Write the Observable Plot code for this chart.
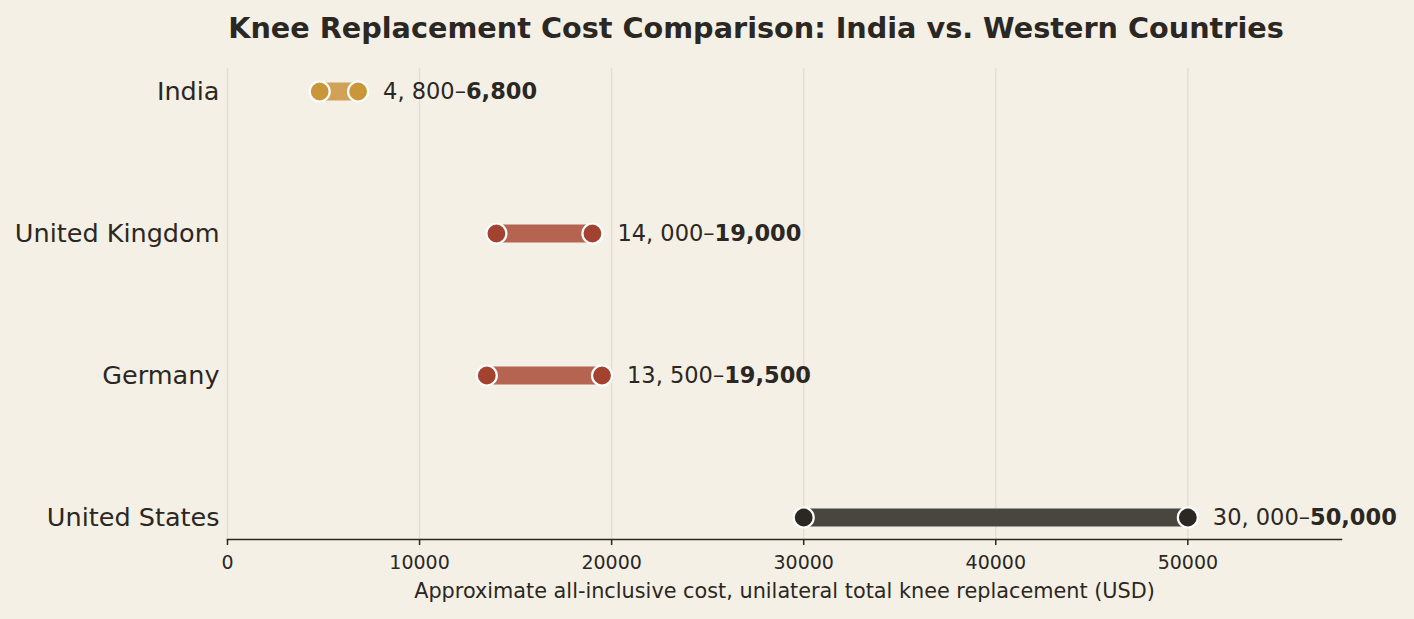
<!DOCTYPE html>
<html>
<head>
<meta charset="utf-8">
<script src="https://cdn.jsdelivr.net/npm/d3@7"></script>
<script src="https://cdn.jsdelivr.net/npm/@observablehq/plot@0.6"></script>
<style>
  html, body { margin: 0; padding: 0; background: #f5f0e6; }
  body { width: 1414px; height: 619px; overflow: hidden; font-family: "DejaVu Sans", sans-serif; color: #2b2723; }
  #title { box-sizing: border-box; width: 1414px; height: 56px; line-height: 56px; padding-left: 98px; text-align: center; font-size: 28.7px; font-weight: bold; }
  #chart svg { display: block; }
</style>
</head>
<body>
<div id="title">Knee Replacement Cost Comparison: India vs. Western Countries</div>
<div id="chart"></div>
<script>
const countries = ["India", "United Kingdom", "Germany", "United States"];
const lowCost = [4800, 14000, 13500, 30000];
const highCost = [6800, 19000, 19500, 50000];
const groups = ["India", "Europe", "Europe", "United States"];
const xTicks = [0, 10000, 20000, 30000, 40000, 50000];
const xLabel = "Approximate all-inclusive cost, unilateral total knee replacement (USD)";

const fmt = d3.format(",");
const data = countries.map((c, i) => ({
  country: c,
  low: lowCost[i],
  high: highCost[i],
  group: groups[i],
  label: fmt(lowCost[i]).replace(",", ", ") + "–" + fmt(highCost[i])
}));

const ink = "#2b2723";
const barColor = d3.scaleOrdinal(["India", "Europe", "United States"], ["#d0a156", "#b56451", "#494640"]);
const dotColor = d3.scaleOrdinal(["India", "Europe", "United States"], ["#c9963a", "#a3432f", "#2b2723"]);

const chart = Plot.plot({
  width: 1414,
  height: 563,
  marginTop: 12,
  marginBottom: 80,
  marginLeft: 227,
  marginRight: 73,
  style: { background: "#f5f0e6", fontFamily: "DejaVu Sans, sans-serif", color: ink, overflow: "visible" },
  x: { domain: [0, 58000] },
  y: { type: "point", domain: countries, padding: 0.15 },
  marks: [
    Plot.gridX(xTicks, { stroke: "#e4ded2", strokeOpacity: 1, strokeWidth: 1.5 }),
    Plot.axisX(xTicks, {
      tickSize: 6, tickPadding: 10, fontSize: 19, tickFormat: d => String(d),
      stroke: ink, strokeWidth: 1.5, fill: ink, label: null
    }),
    Plot.text([xLabel], { text: d => d, frameAnchor: "bottom", dy: 58, fontSize: 20.8, fill: ink }),
    Plot.axisY({ tickSize: 0, tickPadding: 8, fontSize: 25.5, fill: ink, label: null }),
    Plot.frame({ anchor: "bottom", stroke: ink, strokeWidth: 1.5 }),
    Plot.ruleY(data, { y: "country", x1: "low", x2: "high", stroke: d => barColor(d.group), strokeWidth: 18 }),
    Plot.dot(data, { y: "country", x: "low", r: 10, fill: d => dotColor(d.group), stroke: "white", strokeWidth: 2.2 }),
    Plot.dot(data, { y: "country", x: "high", r: 10, fill: d => dotColor(d.group), stroke: "white", strokeWidth: 2.2 }),
    Plot.text(data, { y: "country", x: "high", text: "label", dx: 25, textAnchor: "start", fontSize: 22.5, fill: ink, className: "vlabel" })
  ]
});
document.getElementById("chart").appendChild(chart);

// split value labels: low part regular, high part bold
d3.select(chart).selectAll(".vlabel text").each(function () {
  const t = d3.select(this);
  const s = t.text();
  const k = s.indexOf("–");
  t.text(null);
  t.append("tspan").text(s.slice(0, k + 1));
  t.append("tspan").attr("font-weight", "bold").text(s.slice(k + 1));
});
</script>
</body>
</html>
